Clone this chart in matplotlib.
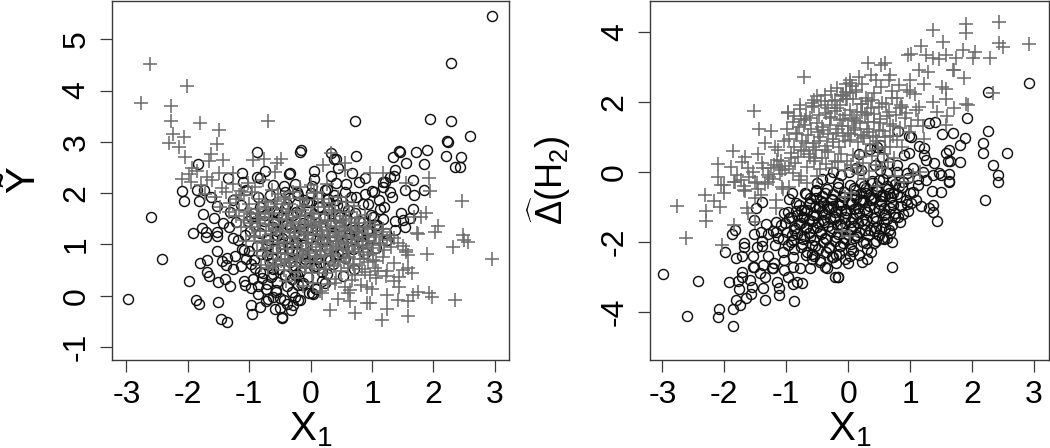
import matplotlib
matplotlib.use("Agg")
import matplotlib.pyplot as plt

# ---------- left panel: circles ----------
left_circle_x = [-1.84,-0.87,-0.15,-0.18,-1.12,-1.34,-0.74,-0.87,-0.83,-0.33,-0.36,-1.10,-0.61,-0.43,-0.25,
 2.95,2.29,0.73,1.94,2.29,2.59,2.22,2.23,0.74,1.72,1.90,1.44,1.45,1.34,2.20,2.45,1.55,1.84,2.35,2.44,0.38,0.41,0.33,1.38,0.06,0.44,1.35,1.30,1.21,1.66,0.88,0.68,0.33,0.79,1.00,1.84,1.54,1.18,0.58,0.41,0.06,
 -2.09,-2.07,-1.85,-1.82,-1.73,-2.60,-1.76,-1.92,-1.77,-1.71,-1.70,-1.53,-1.53,-2.42,-1.52,-1.80,-1.69,-1.68,-1.66,-1.98,-1.51,-1.40,-1.31,-2.98,-1.86,-1.82,-1.51,-1.46,-1.36,-0.97,-0.95,-0.83,-0.70,-0.85,-0.97,-1.08,-1.07,-0.94,-0.85,-1.45,-1.37,-1.38,-1.26,-1.13,-1.11,-1.08,-1.00,-1.26,-1.33,-1.42,-1.32,-1.58,-1.53,-1.62,-0.97,-0.93,-0.82,-0.79,-0.71,-0.65,-0.55,-0.39,-0.50,-0.43,-0.58,-0.50,-0.47,-0.46,-0.32,-0.25,-0.20,-0.02,-0.28,-0.62,-0.20,-0.25,
 0.03,0.04,0.23,1.51,1.38,1.66,1.68,1.03,-0.17,
 -0.90,-0.78,-0.66,-0.52,-0.41,-0.30,-0.18,-0.05,0.08,0.19,0.31,0.44,0.56,0.69,0.83,0.96,1.09,1.22,
 -0.88,-0.71,-0.58,-0.44,-0.33,-0.21,-0.09,0.03,0.16,0.27,0.39,0.52,0.63,0.77,0.91,1.04,1.17,
 -0.83,-0.69,-0.55,-0.47,-0.36,-0.24,-0.12,-0.01,0.11,0.24,0.36,0.47,0.59,0.71,0.86,0.99,1.13,
 -0.76,-0.61,-0.49,-0.38,-0.27,-0.15,-0.03,0.09,0.21,0.33,0.45,0.58,0.72,0.85,
 -0.68,-0.53,-0.41,-0.29,-0.17,-0.06,0.05,0.14,0.28,0.41,0.53,0.66,
 -0.35,-0.22,-0.11,0.01,0.12,0.26,0.38,-0.14,0.07,0.18,-0.57,-0.72,-0.62,-0.92,-1.02,-1.18,-1.24,-1.05,-0.98]
left_circle_y = [2.56,2.80,2.84,2.80,2.39,2.30,2.43,2.32,2.30,2.40,2.37,2.21,2.16,2.14,2.17,
 5.45,4.54,3.41,3.44,3.41,3.12,3.01,3.00,2.73,2.81,2.84,2.82,2.81,2.70,2.72,2.71,2.59,2.57,2.51,2.50,2.66,2.66,2.78,2.46,2.44,2.48,2.33,2.32,2.21,2.25,2.30,2.40,2.33,2.21,2.05,2.07,2.07,2.12,2.18,2.20,2.28,
 2.04,1.85,2.07,1.85,2.06,1.53,1.60,1.22,1.32,1.25,1.15,1.25,1.17,0.71,0.88,0.64,0.70,0.46,0.38,0.29,0.27,0.32,0.18,-0.06,-0.09,-0.17,-0.13,-0.45,-0.52,-0.19,-0.36,-0.22,-0.06,0.03,0.15,0.28,0.21,0.32,0.18,0.68,0.74,0.60,0.53,0.57,0.91,0.90,0.88,1.12,1.33,1.41,1.64,1.51,1.74,1.93,0.62,0.70,0.47,0.34,0.23,0.37,0.26,0.18,-0.04,-0.09,-0.26,-0.23,-0.43,-0.42,-0.27,-0.02,-0.09,0.05,-0.18,0.52,0.21,0.40,
 0.05,0.04,0.25,1.48,1.45,1.70,1.96,2.03,-0.09,
 0.55,0.44,0.63,0.52,0.41,0.33,0.49,0.37,0.58,0.46,0.69,0.81,0.73,0.92,1.02,1.12,1.31,1.23,
 0.96,0.79,0.91,0.74,0.66,0.85,0.71,0.82,0.64,0.93,0.78,1.03,0.95,1.16,1.26,1.38,1.49,
 1.23,1.09,1.18,1.01,0.93,1.05,0.98,1.14,1.27,1.08,1.24,1.36,1.12,1.29,1.43,1.58,1.69,
 1.45,1.33,1.53,1.39,1.22,1.31,1.47,1.35,1.52,1.41,1.58,1.47,1.62,1.78,
 1.77,1.62,1.71,1.58,1.66,1.82,1.59,1.73,1.68,1.86,1.74,1.92,
 1.91,2.03,1.87,2.01,1.93,2.08,1.97,0.20,0.15,0.28,0.08,0.13,-0.02,1.62,1.45,1.08,0.78,0.72,1.27]
left_circle_core = [(-0.47,1.12),(-0.31,0.87),(-0.13,1.41),(0.07,0.97),(0.22,1.56),(0.34,1.16),(0.51,0.84),(0.67,1.34),(0.82,1.07),(1.01,1.54),(1.19,1.72),(1.32,1.93),(1.47,1.62),(1.29,2.03),(1.11,1.86),(0.94,1.79),(0.74,1.93),(0.61,1.68),(0.43,1.77),(0.29,1.89),(0.13,1.72),(-0.03,1.83),(-0.24,1.64),(-0.39,1.78),(-0.58,1.43),(-0.74,1.57),(-0.91,1.36),(-1.07,1.19),(-1.22,1.44),(-0.81,0.82),(-0.63,0.73),(-0.48,0.93),(-0.26,0.58),(-0.09,0.64),(0.11,0.71),(0.26,0.43),(0.37,0.61),(0.52,0.39),(0.71,0.53),(0.88,0.84),(1.06,0.93),(1.24,1.09),(1.37,1.28),(1.53,1.34),(1.61,1.52),
 (-0.69,0.98),(-0.54,1.27),(-0.37,1.04),(-0.19,1.19),(0.02,1.29),(0.18,1.06),(0.32,1.37),(0.47,1.53),(0.62,1.21),(0.78,1.46),(0.93,1.27),(1.08,1.38),(-0.12,0.82),(0.05,0.56),(-0.33,1.33),(-0.59,1.66),(-0.82,1.72),(-0.97,1.54),(-1.13,1.77),(-1.27,1.86),(-0.42,2.03),(-0.66,1.97),(-0.86,1.92),(-1.05,2.06),(-0.21,1.96),(0.03,2.13),(0.24,2.07),(0.56,2.02),(0.89,1.98),(1.17,2.22),(-0.56,0.11),(-0.31,0.07),(-0.13,0.24),(0.08,0.14),(-0.72,-0.11),(-0.38,-0.16),(-0.61,0.42),(-0.22,0.42)]

# ---------- left panel: plus signs ----------
left_plus_x = [-2.61,-2.01,-2.76,-2.28,-2.28,-1.80,-1.50,-0.69,-2.24,-2.07,-2.30,-1.52,-2.14,-1.63,-2.04,-1.66,-1.42,-0.94,-0.76,-0.48,-0.55,-1.93,-1.85,-1.50,-1.98,-2.10,-1.69,-1.26,-0.58,
 0.33,0.20,0.56,0.56,0.97,1.18,1.92,1.56,0.00,0.27,
 2.46,2.95,1.89,2.08,2.03,1.73,1.74,2.48,2.57,2.49,2.32,1.88,1.80,1.68,1.95,1.56,1.59,1.17,1.36,1.02,1.25,1.58,1.65,1.07,1.44,1.44,0.92,0.64,0.67,0.89,0.94,1.74,1.92,1.98,1.25,1.42,1.59,2.35,1.67,0.92,0.97,0.64,0.44,0.31,0.73,1.24,1.59,1.16,0.18,0.40,0.56,1.35,1.43,1.51,1.56,1.30,
 -1.95,-1.78,-1.61,-1.44,-1.27,-1.13,-1.02,-0.90,-0.78,-1.72,-1.55,-1.38,-1.22,-1.08,-0.95,-0.84,-1.47,-1.31,-1.16,-1.00,-0.86,-0.74,-1.22,-1.09,-0.97,-0.82,-0.68,
 -0.96,-0.85,-0.73,-0.62,-0.50,-0.39,-0.27,-0.15,-0.04,0.08,0.19,0.31,0.42,0.54,0.66,0.78,0.91,1.03,1.16,
 -0.91,-0.79,-0.66,-0.55,-0.44,-0.31,-0.20,-0.08,0.03,0.15,0.26,0.37,0.50,0.61,0.73,0.86,0.98,1.11,1.24,
 -0.87,-0.74,-0.61,-0.48,-0.37,-0.24,-0.13,-0.01,0.11,0.22,0.34,0.45,0.57,0.69,0.81,0.94,1.07,1.20,1.31,
 -0.81,-0.69,-0.57,-0.43,-0.33,-0.21,-0.10,0.02,0.13,0.25,0.38,0.49,0.60,0.72,0.84,0.97,1.10,
 -0.75,-0.63,-0.51,-0.40,-0.28,-0.17,-0.05,0.06,0.17,0.29,0.41,0.53,0.65,0.79,0.92,1.05,
 -0.70,-0.58,-0.46,-0.35,-0.23,-0.11,0.00,0.12,0.24,0.35,0.47,0.62,0.75,0.88,
 -0.53,-0.42,-0.29,-0.18,-0.06,0.05,0.18,0.30,0.44,0.58,0.71,
 -0.40,-0.25,-0.12,0.04,0.16,0.28,0.41,0.60,0.82,1.00,1.22,1.36,1.50]
left_plus_y = [4.51,4.09,3.75,3.70,3.40,3.36,3.23,3.41,3.16,3.09,2.98,2.96,2.90,2.77,2.71,2.63,2.64,2.64,2.66,2.66,2.59,2.48,2.43,2.40,2.38,2.27,2.32,2.39,2.42,
 2.78,2.55,2.58,2.45,2.39,2.40,2.29,2.20,2.15,2.18,
 1.84,0.72,0.81,1.35,1.25,1.23,1.21,1.18,1.05,1.09,0.94,1.62,1.54,1.54,2.05,0.86,0.79,0.75,0.63,0.70,0.48,0.55,0.44,0.34,0.37,0.17,0.17,0.11,0.30,0.46,0.66,0.08,0.06,-0.03,0.02,-0.08,-0.11,-0.08,0.01,-0.15,-0.15,-0.10,-0.07,-0.28,-0.33,-0.25,-0.39,-0.47,0.05,0.24,0.17,1.12,1.02,0.96,0.90,1.18,
 2.22,2.15,2.26,2.10,2.18,2.05,2.20,2.12,2.25,1.98,1.92,2.02,1.88,1.97,2.02,1.88,1.72,1.80,1.67,1.78,1.70,1.82,1.56,1.48,1.59,1.54,1.60,
 1.33,1.42,1.27,1.38,1.24,1.36,1.22,1.30,1.18,1.33,1.19,1.28,1.15,1.27,1.12,1.22,1.06,1.14,1.24,
 1.14,1.02,1.09,0.96,1.05,0.92,1.03,0.88,1.00,0.90,1.03,0.92,1.01,0.87,0.97,0.85,0.93,0.99,1.08,
 0.88,0.78,0.84,0.72,0.82,0.70,0.80,0.68,0.76,0.65,0.77,0.67,0.74,0.62,0.72,0.79,0.67,0.89,0.95,
 0.60,0.54,0.62,0.50,0.58,0.47,0.55,0.44,0.52,0.45,0.57,0.48,0.55,0.41,0.52,0.40,0.49,
 1.52,1.61,1.49,1.58,1.44,1.55,1.42,1.52,1.39,1.47,1.36,1.45,1.33,1.41,1.30,1.38,
 1.72,1.84,1.69,1.78,1.66,1.75,1.62,1.72,1.60,1.68,1.56,1.64,1.52,1.58,
 1.98,1.88,2.02,1.90,1.86,2.00,1.88,1.80,1.93,1.82,1.74,
 0.28,0.35,0.18,0.25,0.10,0.22,0.32,0.05,0.20,0.13,0.38,0.28,0.50]
left_plus_core = [(-0.93,1.17),(-0.88,1.48),(-0.71,0.93),(-0.64,1.21),(-0.52,1.02),(-0.47,1.47),(-0.41,0.71),(-0.34,1.13),(-0.29,1.52),(-0.23,0.97),(-0.17,0.76),(-0.11,1.24),(-0.07,1.03),(-0.02,0.83),(0.04,1.21),(0.09,0.94),(0.13,1.43),(0.17,0.79),(0.21,1.11),(0.27,1.34),(0.31,0.97),(0.36,0.82),(0.39,1.23),(0.44,1.07),(0.48,1.41),(0.53,0.91),(0.59,1.16),(0.63,0.76),(0.68,1.03),(0.74,1.27),(0.79,0.92),(0.83,1.14),(0.89,1.33),(0.95,1.07),(1.01,0.83),(1.06,1.19),(-1.13,1.34),(-1.06,1.07),(-0.99,1.41),(-0.82,1.27),(-0.77,1.06),(-0.68,1.39),(-0.57,1.31),(-0.53,0.83),(-0.45,1.27),(-0.38,0.92),(-0.32,1.39),(-0.25,1.17),(-0.19,1.34),(-0.14,0.91),(-0.09,1.46),(-0.04,1.11),(0.01,1.37),(0.07,0.77),(0.12,1.09),(0.16,1.27),(0.23,0.87),(0.28,1.17),(0.33,1.46),(0.41,0.94),(0.46,1.19),(0.51,1.33),(0.57,1.02),(0.65,1.31),(0.71,0.86),(0.77,1.08),(0.86,0.99),(0.93,1.21),(1.13,1.03),(1.18,1.31),
 (-0.62,0.57),(-0.49,0.68),(-0.36,0.63),(-0.22,0.74),(-0.08,0.57),(0.06,0.66),(0.22,0.53),(0.38,0.61),(0.55,0.66),(0.71,0.58),(0.87,0.71),(1.04,0.55),(-1.03,1.63),(-0.87,1.61),(-0.72,1.73),(-0.54,1.79),(-0.37,1.63),(-0.14,1.67),(0.04,1.59),(0.21,1.73),(0.39,1.63),(0.57,1.49),(0.73,1.41),(0.97,1.44),(-1.33,1.63),(-1.17,1.96),(-0.63,2.07),(-0.44,1.93),(-0.17,2.11),(0.11,2.03)]

# ---------- right panel: circles ----------
right_circle_x = [2.92,2.26,1.91,1.31,1.40,2.26,1.69,1.52,1.88,1.81,2.18,2.18,2.56,0.81,0.98,1.01,0.52,0.47,1.14,1.23,1.63,1.58,1.81,1.61,1.65,1.39,2.33,2.41,2.42,0.90,0.98,1.23,1.26,0.35,0.17,0.55,0.66,0.78,0.43,0.20,0.01,1.05,1.20,0.52,0.63,0.79,0.95,1.47,1.63,1.50,1.62,1.63,1.36,1.12,1.25,
 -2.99,-2.43,-2.61,-2.11,-2.08,-1.86,-1.86,-1.99,-1.82,-1.71,-1.87,-1.83,-1.69,-1.69,-1.52,-1.49,-1.39,-1.52,-1.41,-1.32,-1.29,-1.16,-1.16,-1.40,-1.48,-1.39,-1.18,-1.53,-1.29,-1.53,-1.52,-1.71,-1.72,-1.78,-1.93,-1.77,-1.59,-1.43,-1.34,-1.37,-1.23,-1.21,-1.20,-1.55,-1.57,-1.65,-1.74,-1.82,-1.37,-1.35,-1.15,-1.11,-1.12,-0.88,-0.89,-0.74,-0.82,-0.98,-1.03,-0.89,-0.78,-0.62,-0.37,-0.34,-0.21,-0.17,-0.27,-0.45,-0.59,-1.03,-1.06,-0.89,-0.68,-0.98,-1.06,-0.98,-0.85,-0.96,-0.91,-0.69,-0.50,-0.41,-0.52,
 2.20,1.43,1.50,1.35,1.36,1.31,1.36,1.17,0.97,1.02,0.84,0.71,0.70,0.65,0.30,0.03,0.05,0.37,0.41,0.29,0.55,0.62,0.09,-0.07,-0.13,-0.16,
 -0.90,-0.82,-0.73,-0.64,-0.55,-0.46,-0.37,-0.28,-0.19,-0.10,-0.01,0.08,0.17,0.26,0.35,0.44,0.53,0.62,0.71,0.80,0.89,
 -0.86,-0.77,-0.68,-0.59,-0.50,-0.41,-0.32,-0.23,-0.14,-0.05,0.04,0.13,0.22,0.31,0.40,0.49,0.58,0.67,0.76,0.85,0.94,
 -0.93,-0.84,-0.75,-0.66,-0.57,-0.48,-0.39,-0.30,-0.21,-0.12,-0.03,0.06,0.15,0.24,0.33,0.42,0.51,0.60,0.69,0.78,
 -0.80,-0.71,-0.62,-0.53,-0.44,-0.35,-0.26,-0.17,-0.08,0.01,0.10,0.19,0.28,0.37,0.46,0.55,0.64,0.73,0.82,
 -0.76,-0.67,-0.58,-0.49,-0.40,-0.31,-0.22,-0.13,-0.04,0.05,0.14,0.23,0.32,0.41,0.50,0.59,0.68,1.00,1.10,
 -0.70,-0.61,-0.52,-0.43,-0.34,-0.25,-0.16,-0.07,0.02,0.11,0.20,0.29,0.38,0.47,0.56,0.75,0.88,
 -0.55,-0.45,-0.36,-0.24,-0.15,-0.06,0.07,0.18,0.30,0.45,0.58,-0.30,-0.12,0.12,-0.20,0.00,0.22,-0.42,-0.25]
right_circle_y = [2.53,2.29,1.53,1.39,1.42,1.16,1.12,1.08,0.97,0.76,0.83,0.55,0.55,1.17,1.02,1.00,0.76,0.71,0.74,0.67,0.63,0.55,0.27,0.31,0.30,0.26,0.20,-0.08,-0.29,0.47,0.53,0.47,0.33,0.64,0.50,0.43,0.24,0.20,0.20,0.05,0.00,0.10,0.00,0.05,-0.04,0.00,-0.03,-0.03,-0.05,-0.10,-0.27,-0.29,-0.08,-0.22,-0.25,
 -2.92,-3.13,-4.13,-4.14,-3.92,-3.93,-4.41,-2.29,-2.46,-2.41,-1.78,-1.67,-2.05,-2.14,-1.38,-1.03,-0.86,-1.79,-1.71,-1.48,-1.79,-1.71,-1.43,-1.98,-2.14,-2.11,-2.08,-2.41,-2.41,-2.73,-2.71,-2.86,-3.00,-3.11,-3.14,-3.36,-3.09,-2.90,-3.00,-2.67,-2.74,-2.75,-2.62,-3.30,-3.48,-3.62,-3.81,-3.67,-3.33,-3.67,-3.16,-3.33,-3.52,-3.69,-3.21,-3.19,-3.14,-3.00,-2.81,-2.73,-2.76,-2.76,-2.73,-2.76,-3.00,-3.00,-2.45,-2.57,-2.48,-2.52,-2.29,-2.45,-2.38,-2.10,-1.93,-1.14,-0.90,-0.79,-0.60,-0.65,-0.33,-0.90,-0.76,
 -0.82,-1.40,-0.57,-0.54,-0.96,-1.05,-1.14,-0.98,-1.11,-0.90,-1.44,-2.02,-2.71,-1.66,-2.49,-2.40,-2.22,-2.28,-2.05,-2.03,-1.88,-1.88,-1.90,-1.90,-2.12,-3.00,
 -1.94,-1.78,-1.92,-1.74,-1.96,-1.70,-1.90,-1.68,-1.86,-1.62,-1.78,-1.55,-1.72,-1.48,-1.66,-1.42,-1.60,-1.36,-1.52,-1.30,-1.22,
 -1.60,-1.46,-1.62,-1.42,-1.58,-1.37,-1.54,-1.34,-1.50,-1.28,-1.44,-1.22,-1.38,-1.16,-1.32,-1.10,-1.24,-1.04,-1.18,-0.98,-0.92,
 -1.28,-1.12,-1.30,-1.08,-1.24,-1.04,-1.20,-1.00,-1.16,-0.94,-1.10,-0.88,-1.04,-0.82,-0.98,-0.76,-0.92,-0.70,-0.86,-0.64,
 -0.94,-1.08,-0.88,-1.02,-0.84,-0.98,-0.78,-0.92,-0.72,-0.86,-0.66,-0.80,-0.60,-0.74,-0.54,-0.68,-0.48,-0.62,-0.42,
 -2.14,-2.28,-2.08,-2.22,-2.02,-2.16,-1.98,-2.12,-1.92,-2.06,-1.86,-2.00,-1.80,-1.70,-1.82,-1.62,-1.74,-0.62,-0.80,
 -0.62,-0.74,-0.56,-0.70,-0.50,-0.64,-0.44,-0.58,-0.38,-0.52,-0.32,-0.46,-0.26,-0.40,-0.20,-0.34,-0.28,
 -2.40,-2.52,-2.30,-2.44,-2.34,-2.50,-2.26,-2.38,-2.22,-1.98,-1.92,-0.18,-0.10,0.12,-2.62,-2.60,-2.58,-0.20,-0.02]
right_circle_core = [(-0.87,-1.67),(-0.79,-1.49),(-0.71,-1.83),(-0.63,-1.37),(-0.57,-1.61),(-0.52,-1.23),(-0.44,-1.79),(-0.39,-1.44),(-0.33,-1.07),(-0.27,-1.62),(-0.22,-1.29),(-0.16,-1.77),(-0.11,-1.13),(-0.06,-1.47),(0.02,-0.93),(0.07,-1.31),(0.12,-0.74),(0.18,-1.19),(0.23,-0.87),(0.29,-1.37),(0.34,-0.67),(0.41,-1.03),(0.47,-0.52),(0.53,-0.83),(0.59,-1.21),(0.66,-0.61),(0.72,-0.94),(0.83,-0.73),(-0.96,-1.31),(-0.91,-1.82),(-0.83,-1.23),(-0.76,-1.09),(-0.68,-1.59),(-0.61,-1.87),(-0.49,-1.47),(-0.42,-1.13),(-0.36,-1.92),(-0.29,-1.31),(-0.24,-0.97),(-0.18,-1.53),(-0.13,-0.87),(-0.04,-1.19),(0.04,-1.63),(0.09,-1.07),(0.16,-1.46),(0.21,-0.62),(0.27,-1.06),(0.36,-0.82),(0.44,-1.29),(0.51,-0.68),(0.57,-1.03),(0.63,-0.41),(0.69,-0.71),(-1.09,-1.53),(-1.03,-1.19),(-0.99,-1.72),(-0.74,-2.06),(-0.54,-2.13),(-0.31,-2.17),(-0.09,-2.03),(0.13,-1.81),(0.27,-1.66),(0.44,-1.62),(0.58,-1.43),(0.76,-1.28),(0.93,-0.82),(-0.87,-2.21),(-0.58,-2.34),(-0.19,-2.37),(-0.72,-1.29),(-0.47,-0.97),(-0.26,-0.82),(-0.07,-0.71),(0.09,-0.47),(0.26,-0.42),(0.38,-0.31),(0.49,-0.23),(-0.63,-0.92),(-0.38,-0.62),(-0.52,-0.52),(-0.16,-0.32),(0.71,-0.27),(0.87,-0.43),(1.04,-0.58),(1.13,-0.37),(0.96,-0.19),(-1.22,-1.68),(-1.13,-1.88),(-1.02,-1.47),(-0.92,-2.02)]

# ---------- right panel: plus signs ----------
right_plus_x = [-0.71,-1.52,-0.97,-0.78,-0.59,-0.51,-0.56,-0.03,-0.04,-0.04,-1.44,-1.24,-0.99,-0.76,-1.86,-1.66,-1.72,-2.10,-1.90,-2.11,-1.80,-1.85,-2.01,-1.53,-1.51,-1.68,-1.45,-1.34,-1.18,-1.12,-1.20,-1.07,-1.22,-1.07,-0.86,-0.79,
 2.44,1.90,1.90,1.37,1.53,2.92,2.44,2.49,1.18,1.85,2.05,2.01,2.29,0.96,1.01,1.25,1.36,1.47,1.58,1.74,1.69,1.70,1.87,0.59,0.53,0.32,1.14,1.28,0.68,0.17,0.65,0.36,1.00,1.22,1.52,1.57,2.33,0.03,0.03,-0.02,0.82,0.95,1.57,1.90,1.93,1.71,1.14,1.36,1.43,1.59,1.58,1.23,1.20,0.87,0.93,0.66,0.39,0.50,0.22,0.30,0.09,0.68,0.87,0.60,
 -2.77,-2.62,-2.32,-2.29,-2.29,-2.07,-2.16,-2.00,-2.05,-1.68,-1.66,-1.64,-1.62,-2.04,-1.84,-1.50,-1.41,-1.50,-1.17,-1.17,-1.48,-1.83,-1.05,
 -0.95,-0.85,-0.75,-0.65,-0.55,-0.45,-0.35,-0.25,-0.15,-0.05,0.05,0.15,0.25,0.35,0.45,
 -0.90,-0.80,-0.70,-0.60,-0.50,-0.40,-0.30,-0.20,-0.10,0.00,0.10,0.20,0.30,0.40,0.50,0.60,
 -0.98,-0.88,-0.78,-0.68,-0.58,-0.48,-0.38,-0.28,-0.18,-0.08,0.02,0.12,0.22,0.32,0.42,0.52,0.62,0.72,
 -0.72,-0.62,-0.52,-0.42,-0.32,-0.22,-0.12,-0.02,0.08,0.18,0.28,0.38,0.48,0.58,0.68,0.78,
 -0.66,-0.56,-0.46,-0.36,-0.26,-0.16,-0.06,0.04,0.14,0.24,0.34,0.44,0.54,0.64,0.74,
 -0.38,-0.28,-0.18,-0.08,0.02,0.12,0.22,0.32,0.42,0.55,0.70,0.85,1.00,
 -0.32,-0.22,-0.12,0.06,0.16,0.26,0.46,0.76,0.90,1.05,1.15,
 -1.35,-1.28,-1.15,-1.02,-0.92,-1.40,-1.25,-1.10,-0.95,-1.30,-1.60,-1.45,-0.05,0.05,0.02,-0.10]
right_plus_y = [2.70,1.73,1.69,1.90,1.96,2.16,2.05,2.50,2.29,2.09,1.21,1.16,1.21,1.52,0.60,0.41,0.29,0.22,0.14,-0.14,-0.10,-0.28,-0.38,0.00,-0.29,-0.42,0.50,0.81,0.70,0.14,0.20,0.05,-0.20,-0.44,0.25,-0.24,
 4.29,4.22,3.97,4.05,3.72,3.65,3.67,3.57,3.59,3.48,3.43,3.24,3.24,3.34,3.37,3.33,3.24,3.21,3.33,3.24,2.92,2.90,2.69,3.10,3.05,3.10,2.90,2.85,2.77,2.72,2.62,2.77,2.62,2.52,2.42,2.37,2.24,2.53,2.24,2.09,2.47,2.33,2.09,1.93,1.90,1.81,1.86,2.00,1.72,1.58,1.34,0.95,1.30,1.86,1.67,1.72,2.05,1.86,1.95,1.67,1.48,1.03,0.70,0.70,
 -0.98,-1.89,-0.67,-1.12,-1.42,-1.00,-0.83,-0.62,-0.38,-0.52,-0.56,-1.05,-1.19,-2.08,-1.52,-1.43,-0.67,-0.76,-0.81,-1.05,-0.33,-0.28,-0.50,
 0.95,1.12,0.88,1.05,0.82,1.00,0.75,0.95,0.70,0.88,1.08,0.85,1.02,0.80,0.98,
 1.42,1.28,1.48,1.22,1.40,1.18,1.35,1.12,1.30,1.10,1.26,1.06,1.22,1.02,1.18,0.98,
 1.72,1.58,1.78,1.60,1.84,1.62,1.90,1.56,1.82,1.50,1.76,1.46,1.70,1.42,1.64,1.38,1.60,1.32,
 0.58,0.42,0.62,0.38,0.56,0.32,0.52,0.30,0.48,0.42,0.60,0.44,0.66,0.50,0.72,0.90,
 0.15,0.30,0.08,0.22,0.12,0.28,0.05,0.18,0.10,0.24,0.02,0.20,0.12,0.28,0.38,
 2.18,2.32,2.40,2.18,2.62,2.34,2.52,2.02,2.24,1.96,2.12,1.92,2.28,1.82,2.06,2.20,2.45,
 -0.05,-0.22,-0.42,-0.12,-0.30,-0.08,-0.02,-0.35,-0.15,
 0.33,0.08,0.40,0.24,0.12,-0.05,-0.45,-0.28,-0.16,-0.50,-0.72,-0.60,-1.85,-1.70,-1.95,-1.55]
right_plus_core = [(-0.17,1.23),(-0.13,1.47),(-0.09,1.03),(-0.06,1.62),(-0.01,1.31),(0.03,0.92),(0.06,1.54),(0.11,1.19),(0.14,1.72),(0.19,1.38),(0.24,0.97),(0.27,1.61),(0.33,1.14),(0.37,1.83),(0.41,1.41),(0.46,0.87),(0.51,1.52),(0.56,1.17),(0.61,1.94),(0.67,1.37),(0.72,1.03),(0.77,1.63),(0.83,1.24),(0.91,1.53),(0.98,1.13),(-0.93,0.53),(-0.87,0.72),(-0.81,0.41),(-0.76,0.63),(-0.69,0.83),(-0.63,0.52),(-0.57,0.71),(-0.53,0.38),(-0.47,0.87),(-0.42,1.27),(-0.37,0.61),(-0.33,1.08),(-0.29,1.53),(-0.24,0.84),(-0.21,1.74),(-0.71,1.33),(-0.83,1.07),(-0.62,1.53),(-0.49,1.13),(-0.55,1.87),(-0.44,2.02),(-0.36,1.69),(-0.27,2.03),(-0.14,1.92),(-0.08,2.17),(0.07,2.07),(0.12,2.29),(0.21,1.93),(0.29,2.12),(0.44,2.61),(0.53,2.41),(0.71,2.31),(0.79,2.11),(0.84,1.82),(1.07,2.21),(1.12,1.49),(1.09,1.77),(1.02,1.31),(-1.14,0.62),(-1.09,0.31),(-1.03,0.88),(-0.96,0.17),(-0.89,-0.04),(-0.77,-0.13),(-0.66,-0.33),(-0.51,-0.12),(-1.37,0.12),(-1.29,-0.08),(-1.62,0.12),(-1.73,-0.23)]

# draw the hand-read core points along with the rest
left_circle_n = min(len(left_circle_x), len(left_circle_y))
left_circle_x = left_circle_x[:left_circle_n] + [p[0] for p in left_circle_core]
left_circle_y = left_circle_y[:left_circle_n] + [p[1] for p in left_circle_core]
left_plus_n = min(len(left_plus_x), len(left_plus_y))
left_plus_x = left_plus_x[:left_plus_n] + [p[0] for p in left_plus_core]
left_plus_y = left_plus_y[:left_plus_n] + [p[1] for p in left_plus_core]
right_circle_n = min(len(right_circle_x), len(right_circle_y))
right_circle_x = right_circle_x[:right_circle_n] + [p[0] for p in right_circle_core]
right_circle_y = right_circle_y[:right_circle_n] + [p[1] for p in right_circle_core]
right_plus_n = min(len(right_plus_x), len(right_plus_y))
right_plus_x = right_plus_x[:right_plus_n] + [p[0] for p in right_plus_core]
right_plus_y = right_plus_y[:right_plus_n] + [p[1] for p in right_plus_core]

x_ticks = [-3, -2, -1, 0, 1, 2, 3]
left_y_ticks = [-1, 0, 1, 2, 3, 4, 5]
right_y_ticks = [-4, -2, 0, 2, 4]

plt.rcParams['font.family'] = ['Liberation Sans', 'DejaVu Sans']
plt.rcParams['mathtext.fontset'] = 'custom'
plt.rcParams['mathtext.rm'] = 'Liberation Sans'
plt.rcParams['mathtext.it'] = 'Liberation Sans'
plt.rcParams['mathtext.default'] = 'rm'
plt.rcParams['axes.unicode_minus'] = False

W, H = 1050, 448
fig = plt.figure(figsize=(W / 100, H / 100), dpi=100, facecolor='white')
GREY = '#6e6e6e'
EDGE = '#3a3a3a'


def panel(box, xlim, ylim, cx, cy, px, py, yticks):
    l, t, r, b = box
    ax = fig.add_axes([l / W, 1 - b / H, (r - l) / W, (b - t) / H])
    ax.plot(cx, cy, ls='none', marker='o', ms=7.2, mfc='none', mec='#111111', mew=1.05)
    ax.plot(px, py, ls='none', marker='+', ms=10.5, mec=GREY, mew=1.15)
    ax.set_xlim(*xlim)
    ax.set_ylim(*ylim)
    ax.set_xticks(x_ticks)
    ax.set_yticks(yticks)
    ax.tick_params(length=8.5, width=0.9, color=EDGE, labelsize=23, pad=6)
    plt.setp(ax.get_yticklabels(), rotation=90, va='center')
    for s in ax.spines.values():
        s.set_color(EDGE)
        s.set_linewidth(1.0)
    return ax


ax1 = panel((111.7, 1, 509, 360), (-3.24, 3.23), (-1.253, 5.745),
            left_circle_x, left_circle_y, left_plus_x, left_plus_y, left_y_ticks)
ax2 = panel((650, 1, 1049, 360), (-3.2, 3.24), (-5.38, 4.88),
            right_circle_x, right_circle_y, right_plus_x, right_plus_y, right_y_ticks)

fig.text(311 / W, 1 - 430 / H, r'$\mathrm{X}_{1}$', fontsize=29, ha='center', va='center')
fig.text(850 / W, 1 - 430 / H, r'$\mathrm{X}_{1}$', fontsize=29, ha='center', va='center')
fig.text(23 / W, 1 - 180 / H, '\u1ef8', fontsize=29, rotation=90, ha='center', va='center')
fig.text(549 / W, 1 - 180 / H, r'$\widehat{\Delta}(\mathrm{H}_{2})$', fontsize=26, rotation=90, ha='center', va='center')

fig.savefig('out.png', dpi=100)
